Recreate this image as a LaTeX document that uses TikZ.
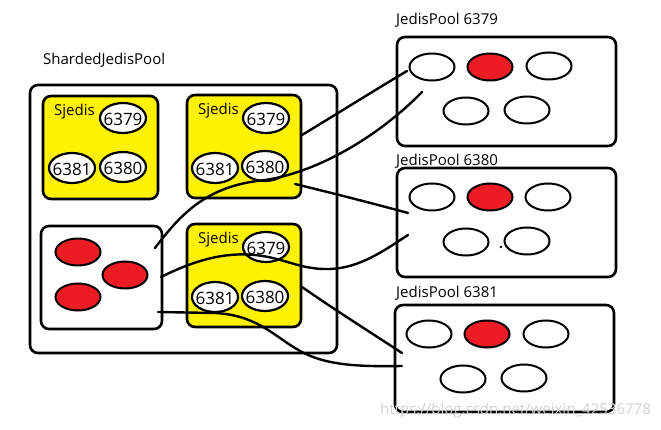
\documentclass[tikz,border=0pt]{standalone}
\usepackage{fontspec}
\setmainfont{Open Sans}
\usetikzlibrary{shapes.geometric}
\definecolor{pyellow}{RGB}{255,242,0}
\definecolor{pred}{RGB}{237,28,36}
\begin{document}
\begin{tikzpicture}[x=1pt,y=-1pt,
  box/.style={draw, line width=2.6pt, rounded corners=8pt, inner sep=0pt, anchor=center},
  ybox/.style={box, fill=pyellow},
  wbox/.style={box, fill=white},
  numell/.style={ellipse, draw, line width=2.2pt, fill=white, minimum width=46pt, minimum height=30pt, inner sep=0pt,
     label={[inner sep=0pt, yshift=-1.5pt, font=\fontsize{17}{20}\selectfont]center:#1}},
  pell/.style={ellipse, draw, line width=2pt, fill=white, minimum width=45pt, minimum height=27pt, inner sep=0pt},
  rell/.style={pell, fill=pred},
  wire/.style={line width=2.4pt, line cap=round},
  lbl/.style={font=\fontsize{15}{18}\selectfont, inner sep=0pt, anchor=west}
]
\useasboundingbox (0,0) rectangle (661,430);

% titles
\node[lbl] (tsh) at (43,60) {ShardedJedisPool};
\node[lbl] (t79) at (396,20) {JedisPool 6379};
\node[lbl] (t80) at (396,161) {JedisPool 6380};
\node[lbl] (t81) at (396,293) {JedisPool 6381};

% outer box
\node[wbox, minimum width=307pt, minimum height=268pt] (outer) at (183.5,219) {};

% yellow Sjedis boxes
\node[ybox, minimum width=115pt, minimum height=103pt] (y1) at (100.5,147.5) {};
\node[ybox, minimum width=114pt, minimum height=103pt] (y2) at (244,146.5) {};
\node[ybox, minimum width=114pt, minimum height=103pt] (y3) at (244,275.5) {};
\node[wbox, minimum width=121pt, minimum height=103pt] (wb) at (101.5,277.5) {};

\node[lbl] (s1) at (54,112) {Sjedis};
\node[lbl] (s2) at (198,111) {Sjedis};
\node[lbl] (s3) at (198,240) {Sjedis};

\node[numell=6379] (y1a) at (123,118) {};
\node[numell=6381] (y1b) at (72,168) {};
\node[numell=6380] (y1c) at (123,167) {};
\node[numell=6379] (y2a) at (266,118) {};
\node[numell=6381] (y2b) at (215,168) {};
\node[numell=6380] (y2c) at (265,166) {};
\node[numell=6379] (y3a) at (266,247) {};
\node[numell=6381] (y3b) at (215,297) {};
\node[numell=6380] (y3c) at (265,296) {};

% red ellipses in white box
\node[rell] (r1) at (78,252) {};
\node[rell] (r2) at (125,275) {};
\node[rell] (r3) at (78,297) {};

% JedisPool boxes
\node[wbox, minimum width=219pt, minimum height=109pt] (p79) at (506.5,91.5) {};
\node[wbox, minimum width=219pt, minimum height=109pt] (p80) at (506.5,222.5) {};
\node[wbox, minimum width=219pt, minimum height=107pt] (p81) at (504.5,358.5) {};

\node[pell] (p79a) at (432,67) {};
\node[rell] (p79b) at (490,67) {};
\node[pell] (p79c) at (549,66) {};
\node[pell] (p79d) at (466,111) {};
\node[pell] (p79e) at (527,110) {};

\node[pell] (p80a) at (432,197) {};
\node[rell] (p80b) at (490,197) {};
\node[pell] (p80c) at (548,197) {};
\node[pell] (p80d) at (466,242) {};
\node[pell] (p80e) at (527,241) {};
\fill (501,247) circle (1.3pt);

\node[pell] (p81a) at (429,334) {};
\node[rell] (p81b) at (487,334) {};
\node[pell] (p81c) at (546,334) {};
\node[pell] (p81d) at (463,379) {};
\node[pell] (p81e) at (524,378) {};

% wire end points
\coordinate (w1a) at (302,135);
\coordinate (w1b) at (407,71);
\coordinate (w2a) at (155,248);
\coordinate (w2b) at (422,92);
\coordinate (w3a) at (295,184);
\coordinate (w3b) at (408,213);
\coordinate (w4a) at (161,277);
\coordinate (w4b) at (408,235);
\coordinate (w5a) at (302,287);
\coordinate (w5b) at (402,353);
\coordinate (w6a) at (158,312);
\coordinate (w6b) at (402,366);

% wires
\draw[wire] (w1a) .. controls (340,112) and (375,90) .. (w1b);
\draw[wire] (w2a) .. controls (180,215) and (205,188) .. (257,181)
                  .. controls (310,176) and (375,140) .. (w2b);
\draw[wire] (w3a) .. controls (340,195) and (375,204) .. (w3b);
\draw[wire] (w4a) .. controls (195,260) and (225,252) .. (255,255)
                  .. controls (285,258) and (300,270) .. (330,269)
                  .. controls (360,268) and (385,250) .. (w4b);
\draw[wire] (w5a) .. controls (335,310) and (370,332) .. (w5b);
\draw[wire] (w6a) -- (215,313) .. controls (255,315) and (272,334) .. (295,348)
                  .. controls (320,364) and (350,367) .. (w6b);

% watermark
\node[lbl, text=black!18, font=\fontsize{15}{18}\selectfont] (wm) at (380,411) {https://blog.csdn.net/weixin\_42536778};
\end{tikzpicture}
\end{document}
